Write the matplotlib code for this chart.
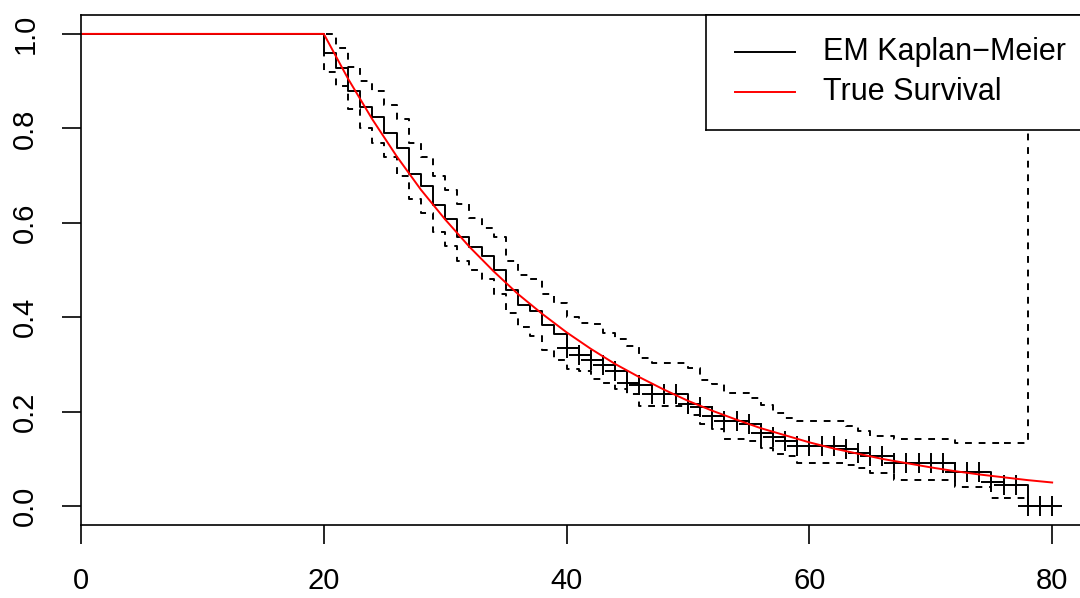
import numpy as np
import matplotlib
matplotlib.use('Agg')
import matplotlib.pyplot as plt

plt.rcParams['font.family'] = ['Liberation Sans', 'DejaVu Sans']

# Kaplan-Meier step times and estimates
km_times = [20, 21, 22, 23, 24, 25, 26, 27, 28, 29, 30, 31, 32, 33, 34, 35, 36, 37, 38, 39,
            40, 41, 42, 43, 44, 45, 46, 47, 50, 51, 52, 53, 55, 56, 57, 58, 59, 63, 64, 65,
            67, 72, 75, 76, 78]
km_surv = [.959, .927, .880, .846, .824, .790, .758, .703, .677, .637, .607, .570, .549, .529,
           .500, .457, .426, .413, .383, .364, .335, .321, .309, .299, .286, .260, .256, .237,
           .216, .209, .190, .180, .173, .154, .147, .138, .127, .121, .112, .106, .091, .073,
           .051, .045, 0.0]
km_upper = [1.0, .97, .93, .90, .88, .85, .82, .77, .74, .70, .67, .64, .61, .59, .57, .52,
            .49, .48, .45, .43, .40, .388, .385, .367, .353, .34, .314, .304, .293, .268, .258,
            .239, .230, .214, .198, .187, .180, .170, .159, .149, .142, .133, .133, .133, 1.0]
km_lower = [.92, .89, .84, .80, .77, .74, .70, .65, .62, .58, .55, .52, .50, .48, .45, .41,
            .38, .36, .33, .31, .29, .286, .270, .261, .249, .237, .212, .212, .192, .173, .163,
            .143, .138, .124, .110, .106, .092, .087, .080, .071, .055, .041, .018, .018, np.nan]
censor_times = list(range(40, 81))

# true survival curve values
true_t = [0, 20, 22, 24, 26, 28, 30, 32, 34, 36, 38, 40, 42, 44, 46, 48, 50, 52, 54, 56, 58,
          60, 62, 64, 66, 68, 70, 72, 74, 76, 78, 80]
true_s = [1.0, 1.0, .905, .819, .741, .670, .607, .549, .497, .449, .407, .368, .333, .301,
          .273, .247, .223, .202, .183, .165, .150, .135, .122, .111, .100, .091, .082, .074,
          .067, .061, .055, .050]


def km_at(t):
    s = 1.0
    for tt, ss in zip(km_times, km_surv):
        if tt <= t:
            s = ss
    return s


fig = plt.figure(figsize=(10.8, 5.98), dpi=100)
ax = fig.add_axes([81/1080, 1 - 525/598, 1010/1080, (525 - 15)/598])

dash = (0, (3.5, 3.5))
x = [0] + km_times
ax.step(x, [1.0] + km_surv, where='post', color='black', lw=1.4)
ax.step(x[:-1], ([1.0] + km_upper)[:-1], where='post', color='black', lw=1.4, ls=dash)
ax.plot([76, 78, 78], [km_upper[-2], km_upper[-2], 1.0], color='black', lw=1.4, ls=dash)
ax.step(x[:-1], ([1.0] + km_lower)[:-1], where='post', color='black', lw=1.4, ls=dash)
ax.plot([76, 78], [km_lower[-2], km_lower[-2]], color='black', lw=1.4, ls=dash)
ax.plot(censor_times, [km_at(t) for t in censor_times], ls='none', marker='+',
        color='black', ms=15, mew=1.4)
ax.plot(true_t, true_s, color='red', lw=1.4)

ax.set_xlim(0, 83.2)
ax.set_ylim(-0.04, 1.04)
ax.set_xticks([0, 20, 40, 60, 80])
ax.set_yticks([0.0, 0.2, 0.4, 0.6, 0.8, 1.0])
ax.set_yticklabels(['0.0', '0.2', '0.4', '0.6', '0.8', '1.0'], rotation=90, va='center')
ax.tick_params(labelsize=21, length=14, width=1.2)
ax.tick_params(axis='y', pad=16)
ax.tick_params(axis='x', pad=16)
for sp in ax.spines.values():
    sp.set_linewidth(1.2)

leg_ax = fig.add_axes([706/1080, 1 - 130/598, 0.4, 115/598])
leg_ax.set_xlim(706, 1138)
leg_ax.set_ylim(130, 15)
leg_ax.set_xticks([])
leg_ax.set_yticks([])
for sp in leg_ax.spines.values():
    sp.set_linewidth(1.2)
leg_ax.plot([735, 795], [52, 52], color='black', lw=1.4)
leg_ax.plot([735, 795], [92, 92], color='red', lw=1.4)
leg_ax.text(823, 52, 'EM Kaplan\u2212Meier', fontsize=22, va='center')
leg_ax.text(823, 92, 'True Survival', fontsize=22, va='center')

fig.savefig('out.png', dpi=100)
